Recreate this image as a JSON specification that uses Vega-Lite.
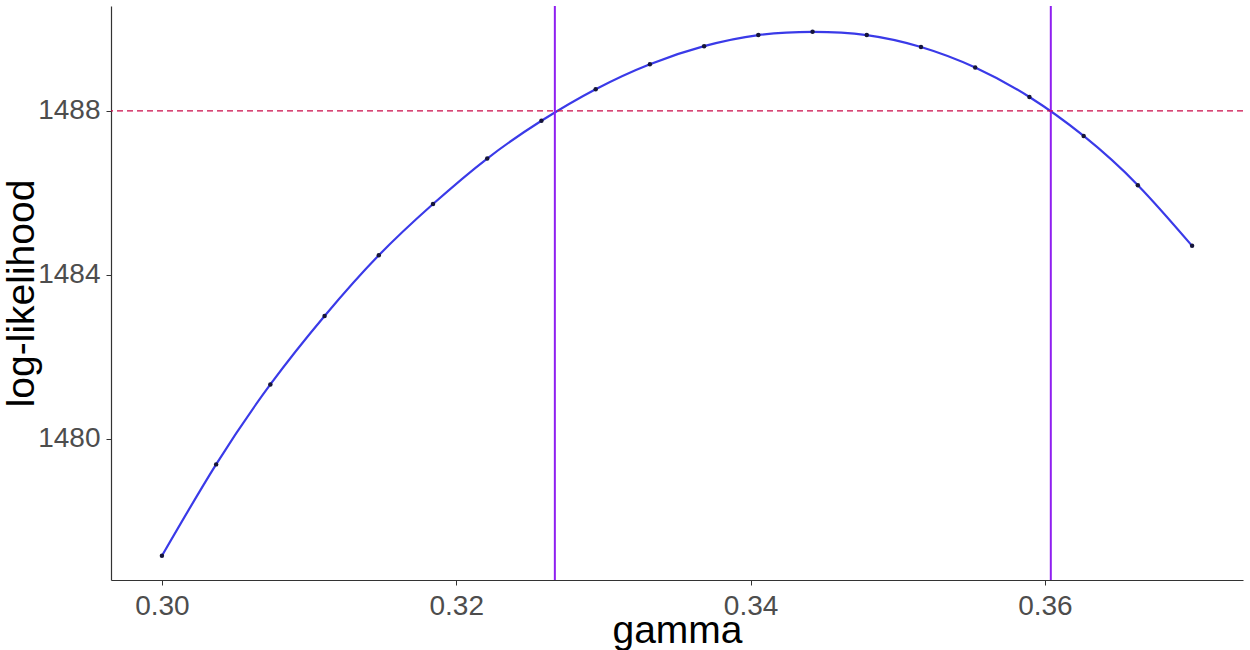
{
  "$schema": "https://vega.github.io/schema/vega-lite/v6.json",
  "autosize": "none",
  "width": 1132,
  "height": 574,
  "padding": {"left": 111, "top": 6, "right": 7, "bottom": 70},
  "background": "white",
  "config": {
    "view": {"stroke": null},
    "font": "Liberation Sans",
    "axis": {
      "grid": false,
      "domainColor": "#333333",
      "domainWidth": 1.2,
      "tickColor": "#333333",
      "tickSize": 5,
      "labelColor": "#4d4d4d",
      "labelFontSize": 28,
      "labelFont": "Liberation Sans",
      "titleFont": "Liberation Sans",
      "titleFontSize": 39,
      "titleFontWeight": "normal",
      "titleColor": "#000000"
    }
  },
  "datasets": {
    "profile": [
      {"gamma": 0.300000, "loglik": 1477.15},
      {"gamma": 0.303684, "loglik": 1479.38},
      {"gamma": 0.307368, "loglik": 1481.33},
      {"gamma": 0.311053, "loglik": 1483.00},
      {"gamma": 0.314737, "loglik": 1484.48},
      {"gamma": 0.318421, "loglik": 1485.73},
      {"gamma": 0.322105, "loglik": 1486.84},
      {"gamma": 0.325789, "loglik": 1487.76},
      {"gamma": 0.329474, "loglik": 1488.53},
      {"gamma": 0.333158, "loglik": 1489.14},
      {"gamma": 0.336842, "loglik": 1489.58},
      {"gamma": 0.340526, "loglik": 1489.85},
      {"gamma": 0.344211, "loglik": 1489.93},
      {"gamma": 0.347895, "loglik": 1489.85},
      {"gamma": 0.351579, "loglik": 1489.56},
      {"gamma": 0.355263, "loglik": 1489.06},
      {"gamma": 0.358947, "loglik": 1488.34},
      {"gamma": 0.362632, "loglik": 1487.39},
      {"gamma": 0.366316, "loglik": 1486.19},
      {"gamma": 0.370000, "loglik": 1484.71}
    ],
    "ci": [{"gamma": 0.3267}, {"gamma": 0.3604}],
    "cutoff": [{"loglik": 1488.0}]
  },
  "layer": [
    {
      "data": {"name": "profile"},
      "mark": {"type": "line", "interpolate": "natural", "color": "#3a3ae8", "strokeWidth": 2.2},
      "encoding": {
        "x": {
          "field": "gamma", "type": "quantitative", "title": "gamma",
          "scale": {"domain": [0.29654, 0.37346], "nice": false, "zero": false},
          "axis": {"values": [0.30, 0.32, 0.34, 0.36], "format": ".2f", "labelPadding": 7,
                   "titleX": 566, "titleY": 62, "titleAlign": "center", "titleBaseline": "alphabetic"}
        },
        "y": {
          "field": "loglik", "type": "quantitative", "title": "log-likelihood",
          "scale": {"domain": [1476.56, 1490.56], "nice": false, "zero": false},
          "axis": {"values": [1480, 1484, 1488], "format": "d", "labelPadding": 6,
                   "titleX": -78, "titleY": 287, "titleAngle": -90, "titleAlign": "center", "titleBaseline": "alphabetic"}
        }
      }
    },
    {
      "data": {"name": "profile"},
      "mark": {"type": "point", "filled": true, "color": "#15153a", "size": 20, "opacity": 1},
      "encoding": {
        "x": {"field": "gamma", "type": "quantitative"},
        "y": {"field": "loglik", "type": "quantitative"}
      }
    },
    {
      "data": {"name": "ci"},
      "mark": {"type": "rule", "color": "#8f1ff0", "strokeWidth": 2},
      "encoding": {"x": {"field": "gamma", "type": "quantitative"}}
    },
    {
      "data": {"name": "cutoff"},
      "mark": {"type": "rule", "color": "#cc0a4a", "strokeWidth": 1.3, "strokeDash": [6, 4]},
      "encoding": {"y": {"field": "loglik", "type": "quantitative"}}
    }
  ]
}
